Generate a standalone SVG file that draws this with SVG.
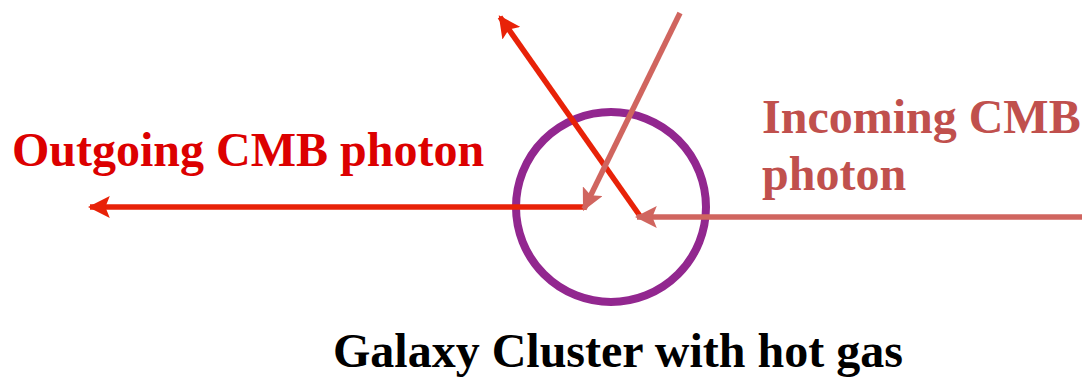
<svg xmlns="http://www.w3.org/2000/svg" width="1082" height="377" viewBox="0 0 1082 377">
<style>
.t{font-family:"Liberation Serif","Times New Roman",serif;font-weight:bold;font-size:48px}
.red{stroke:#e82208;stroke-width:5.5;fill:none}
.pink{stroke:#d0655f;stroke-width:5.5;fill:none}
</style>
<defs>
<marker id="ar" viewBox="0 0 10 10" refX="9" refY="5" markerWidth="4" markerHeight="4" orient="auto" markerUnits="strokeWidth"><path d="M0,0 L10,5 L0,10 L2,5 Z" fill="#e82208"/></marker>
<marker id="ap" viewBox="0 0 10 10" refX="9" refY="5" markerWidth="4" markerHeight="4" orient="auto" markerUnits="strokeWidth"><path d="M0,0 L10,5 L0,10 L2,5 Z" fill="#d0655f"/></marker>
</defs>
<g id="cluster"><circle cx="611" cy="207" r="95" fill="none" stroke="#92278f" stroke-width="8"/></g>
<g id="connectors">
<line class="red" x1="640" y1="216" x2="500" y2="17" marker-end="url(#ar)"/>
<line class="red" x1="586" y1="207" x2="90" y2="207" marker-end="url(#ar)"/>
<line class="pink" x1="680" y1="13" x2="584" y2="209" marker-end="url(#ap)"/>
<line class="pink" x1="1082" y1="217" x2="637" y2="217" marker-end="url(#ap)"/>
</g>
<g id="label-out"><text class="t" x="12" y="166" fill="#dc0000">Outgoing CMB photon</text></g>
<g id="label-in"><text class="t" x="762" y="133" fill="#c0504d">Incoming CMB</text><text class="t" x="762" y="190" fill="#c0504d">photon</text></g>
<g id="label-cluster"><text class="t" x="333" y="367" fill="#000">Galaxy Cluster with hot gas</text></g>
</svg>
